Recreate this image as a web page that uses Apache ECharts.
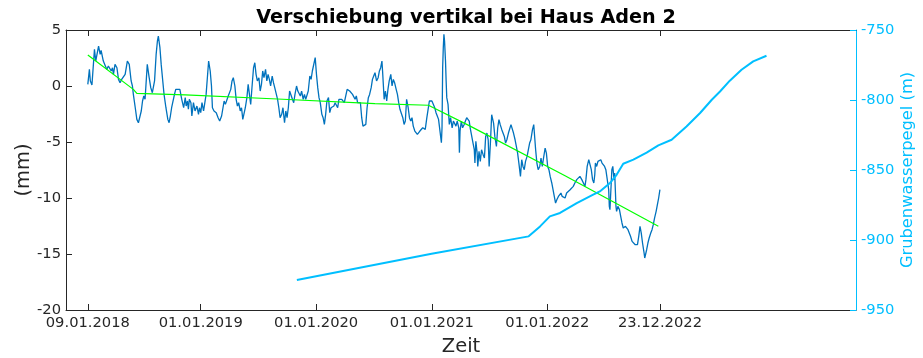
<!DOCTYPE html>
<html>
<head>
<meta charset="utf-8">
<script src="https://cdn.jsdelivr.net/npm/echarts@6/dist/echarts.min.js"></script>
<style>
  html, body { margin: 0; padding: 0; background: #ffffff; }
  #chart { width: 923px; height: 358px; }
</style>
</head>
<body>
<div id="chart"></div>
<script>
// Settlement measurement at Haus Aden 2 – day offsets counted from the first reading (09.01.2018)
const firstReading = Date.UTC(2018, 0, 9);
const DAY = 86400000;

// Vertical displacement (mm)
const dispDays = [
  0, 5, 8, 13, 21, 25, 34, 39, 42, 49, 55, 60, 65, 71, 74, 78, 81, 86, 92, 97, 102, 107, 113, 118, 125, 131, 137, 141, 144, 150, 155, 160, 164, 169, 173, 177, 181, 188, 194, 199, 204, 211, 216, 220, 223, 228, 232, 236, 241, 247, 253, 257, 261, 265, 270, 274, 278, 284, 291, 297, 303, 308,
  311, 315, 318, 321, 326, 329, 334, 339, 345, 350, 353, 357, 361, 366, 371, 374, 378, 382, 387, 391, 394, 399, 406, 412, 417, 423, 427, 431, 435, 439, 444, 448, 452, 456, 460, 465, 469, 473, 477, 482, 486, 490, 494, 498, 503, 507, 511, 515, 519, 524, 528, 532, 536, 541, 545, 549, 553, 557, 562, 566, 570, 574, 578, 583, 587, 591, 595, 600, 604, 608,
  613, 617, 622, 626, 630, 634, 638, 643, 647, 651, 655, 660, 664, 668, 672, 676, 681, 685, 689, 693, 697, 702, 706, 710, 714, 719, 723, 727, 731, 735, 740, 744, 748, 752, 756, 761, 765, 769, 773, 778, 782, 786, 790, 794, 799, 803, 807, 811, 815, 820, 824, 828, 832, 837, 841, 845, 849, 853, 858, 862, 866, 870, 874, 879, 883, 887, 891, 896, 900, 904, 908,
  913, 918, 922, 926, 930, 932, 937, 941, 945, 949, 953, 958, 962, 966, 970, 975, 979, 983, 987, 991, 996, 1000, 1004, 1008, 1013, 1017, 1021, 1025, 1029, 1034, 1038, 1042, 1046, 1050, 1055, 1059, 1063, 1067, 1072, 1076, 1080, 1084, 1088, 1093, 1097, 1101, 1105, 1109, 1114, 1118, 1120, 1122, 1124, 1126, 1128, 1131, 1133, 1135, 1139, 1143, 1147, 1152, 1156, 1160, 1164, 1168, 1173, 1175, 1177, 1181, 1185, 1190, 1194, 1198, 1202, 1206, 1209,
  1214, 1218, 1222, 1224, 1227, 1231, 1233, 1237, 1241, 1245, 1250, 1254, 1258, 1262, 1266, 1269, 1273, 1277, 1279, 1283, 1287, 1292, 1296, 1300, 1304, 1309, 1313, 1317, 1321, 1325, 1330, 1334, 1338, 1342, 1346, 1351, 1355, 1359, 1363, 1368, 1372, 1376, 1380, 1384, 1389, 1393, 1397, 1401, 1406, 1410, 1412, 1416, 1420, 1424, 1429, 1433, 1437, 1441, 1446, 1450, 1454, 1458, 1462, 1467, 1471, 1475, 1479, 1483, 1488, 1492, 1496, 1500, 1505, 1509,
  1514, 1519, 1525, 1530, 1535, 1540, 1546, 1551, 1556, 1562, 1567, 1572, 1575, 1579, 1584, 1588, 1592, 1596, 1600, 1603, 1605, 1609, 1613, 1617, 1622, 1626, 1630, 1634, 1638, 1643, 1647, 1649, 1651, 1653, 1655, 1657, 1660, 1662, 1664, 1666, 1668, 1670, 1672, 1676, 1681, 1685, 1689, 1693, 1700, 1704, 1708, 1712, 1716, 1721, 1725, 1731, 1738, 1742, 1746, 1750, 1754, 1759, 1761, 1763, 1767, 1771, 1775, 1780, 1784, 1788, 1792, 1797, 1801, 1805, 1809
];
const dispMm = [
  0.15, 1.48, 0.45, 0.09, 3.27, 2.23, 3.57, 2.82, 3.18, 2.23, 2.38, 1.48, 1.79, 1.93, 1.34, 1.63, 1.04, 1.93, 1.63, 0.59, 0.29, 0.59, 0.45, 1.04, 2.23, 1.93, 0.45, 0.0, -0.75, -1.94, -2.98, -3.28, -3.19, -2.23, -1.34, -0.89, -1.19, 1.93, 0.74, -0.15, -0.60, 0.45, 2.82, 4.0, 4.46, 3.42, 1.93, 0.74, -0.75, -1.94, -2.98, -3.28, -2.68, -1.94, -1.79, -0.75, -0.30, -0.15, -0.30, -1.19, -1.94, -1.04,
  -1.79, -1.34, -2.08, -1.19, -1.49, -2.68, -1.49, -2.23, -1.79, -2.53, -1.94, -2.38, -1.49, -2.23, -2.08, -0.75, 0.74, 2.23, 1.34, 0.0, -1.94, -2.23, -2.38, -2.83, -3.13, -2.68, -2.53, -1.34, -1.64, -1.49, -0.89, -1.04, -0.30, 0.45, 0.74, 0.0, -1.19, -1.79, -1.49, -2.23, -1.94, -2.98, -2.83, -1.94, -1.04, 0.15, 0.0, -1.64, -0.15, 1.63, 2.08, 1.04, 0.45, 0.74, -0.45, 0.15, 1.34, 0.74, 1.48, 0.45, 1.04, 0.59, 0.0, 0.89, 0.30, -0.15, 0.0, -1.19, -1.94, -2.83,
  -2.53, -1.94, -3.28, -2.23, -2.83, -1.94, -0.45, -0.30, -1.19, -1.49, -0.75, 0.0, -0.45, -0.30, -0.89, -0.45, -1.19, -0.75, -1.19, -1.19, -0.45, 0.89, 0.59, 1.34, 1.19, 2.53, 1.04, -0.15, -1.04, -1.49, -2.53, -2.83, -3.43, -2.53, -1.34, -1.04, -2.38, -1.94, -1.79, -1.79, -1.49, -1.64, -1.94, -1.19, -1.04, -1.19, -1.34, -1.49, -1.49, -0.30, -0.15, -0.45, -0.30, -0.75, -0.60, -1.19, -0.89, -1.49, -1.64, -1.49, -2.83, -3.58, -3.73, -3.43, -1.94, -1.04, -0.75, -0.15, 0.59, 0.89, 1.19,
  0.45, 0.74, 1.34, 1.63, 2.23, 1.34, -1.19, -0.45, -1.34, -0.30, 0.45, 1.04, 0.0, 0.59, 0.30, -0.30, -0.75, -1.49, -2.08, -2.23, -2.83, -3.43, -3.13, -1.19, -1.94, -2.83, -3.13, -2.83, -3.58, -4.02, -4.17, -4.32, -4.47, -4.02, -3.87, -3.73, -3.58, -3.87, -2.83, -2.08, -1.34, -1.19, -1.34, -1.49, -1.94, -2.38, -2.68, -2.98, -2.83, -5.06, -3.73, 1.63, 3.42, 4.61, 4.01, 2.23, 0.45, -1.04, -1.64, -3.43, -2.83, -3.73, -3.13, -2.98, -3.58, -3.13, -3.73, -5.95, -4.02, -3.13, -3.73, -3.43, -3.13, -2.83, -2.83, -3.13, -3.73,
  -3.90, -5.09, -5.69, -6.88, -4.94, -5.99, -7.18, -5.84, -6.73, -5.69, -6.13, -6.43, -4.50, -4.20, -4.80, -7.18, -5.09, -2.56, -2.41, -3.31, -4.50, -5.39, -3.75, -3.01, -3.45, -3.90, -4.05, -4.50, -5.09, -4.80, -4.20, -4.05, -3.45, -3.60, -4.20, -4.80, -5.39, -5.99, -6.88, -8.07, -6.58, -7.18, -7.47, -6.73, -6.28, -5.69, -5.09, -4.80, -3.90, -3.45, -4.20, -5.69, -6.88, -7.47, -7.18, -6.43, -7.18, -6.43, -5.54, -5.99, -7.18, -7.47, -8.07, -8.66, -9.26, -9.86, -10.45, -10.15, -9.86, -9.71, -9.56, -9.86, -10.0, -10.0,
  -9.55, -9.41, -9.26, -9.11, -8.96, -8.66, -8.36, -8.22, -8.07, -8.36, -8.66, -8.96, -8.36, -7.18, -6.58, -6.73, -7.47, -8.36, -8.66, -7.92, -6.88, -7.18, -6.73, -6.88, -6.58, -6.88, -6.73, -7.18, -7.47, -7.32, -9.26, -10.75, -11.04, -9.85, -8.66, -7.47, -7.18, -7.77, -8.36, -7.77, -9.26, -10.75, -11.19, -10.75, -11.04, -11.64, -12.23, -12.68, -12.53, -12.68, -12.83, -12.98, -13.42, -13.87, -14.02, -14.17, -14.17, -13.42, -12.53, -13.13, -14.02, -14.92, -15.36, -15.21, -14.62, -14.02, -13.57, -13.13, -12.83, -12.38, -11.79, -11.19, -10.60, -10.0, -9.26
];

// Fitted trend of the displacement (mm)
const trendDays = [0, 144, 155, 308, 600, 908, 1077, 1209, 1509, 1804];
const trendMm   = [2.77, -0.30, -0.66, -0.80, -1.16, -1.58, -1.72, -3.58, -8.01, -12.53];

// Mine water level (m)
const pegelDays = [661, 1087, 1394, 1430, 1461, 1493, 1546, 1598, 1619, 1651, 1672, 1693, 1725, 1767, 1804, 1846, 1893, 1936, 1973, 1999, 2030, 2067, 2104, 2146];
const pegelM    = [-928.5, -909.8, -897.4, -890.3, -883.1, -880.7, -873.6, -867.6, -865.3, -859.3, -853.4, -845.5, -842.6, -837.6, -832.4, -828.4, -818.9, -809.3, -799.8, -793.9, -786.2, -778.4, -772.4, -768.4];

// Date ticks on the time axis
const tickDates = [
  Date.UTC(2018, 0, 9), Date.UTC(2019, 0, 1), Date.UTC(2020, 0, 1),
  Date.UTC(2021, 0, 1), Date.UTC(2022, 0, 1), Date.UTC(2022, 11, 23)
];
const timeMin = Date.UTC(2017, 10, 1);
const timeMax = Date.UTC(2024, 8, 3);

const toPairs = (days, vals) => days.map((d, i) => [firstReading + d * DAY, vals[i]]);
const pad = n => (n < 10 ? '0' : '') + n;
const fmtDate = v => {
  const d = new Date(v);
  return pad(d.getUTCDate()) + '.' + pad(d.getUTCMonth() + 1) + '.' + d.getUTCFullYear();
};

const AXIS = '#262626';
const CYAN = '#00BFFF';
const FONT = 'DejaVu Sans';

const chart = echarts.init(document.getElementById('chart'), null, { renderer: 'canvas' });
chart.setOption({
  animation: false,
  backgroundColor: '#ffffff',
  textStyle: { fontFamily: FONT },
  title: {
    text: 'Verschiebung vertikal bei Haus Aden 2',
    left: 461, textAlign: 'center', top: 4,
    textStyle: { fontFamily: FONT, fontSize: 19.2, fontWeight: 'bold', color: '#000000' }
  },
  grid: { left: 66, right: 67, top: 30, bottom: 48, containLabel: false, outerBoundsMode: 'none' },
  xAxis: [
    {
      type: 'value', position: 'bottom', min: timeMin, max: timeMax,
      name: 'Zeit', nameLocation: 'middle', nameGap: 27, nameMoveOverlap: false,
      nameTextStyle: { fontFamily: FONT, fontSize: 19.5, color: AXIS },
      axisLine: { show: true, onZero: false, lineStyle: { color: AXIS, width: 1 } },
      axisTick: { show: true, inside: true, length: 6, customValues: tickDates, lineStyle: { color: AXIS } },
      axisLabel: { show: true, customValues: tickDates, formatter: fmtDate, margin: 6,
                   fontFamily: FONT, fontSize: 14.7, color: AXIS },
      splitLine: { show: false }
    },
    {
      type: 'value', position: 'top', min: timeMin, max: timeMax,
      axisLine: { show: true, onZero: false, lineStyle: { color: AXIS, width: 1 } },
      axisTick: { show: true, inside: true, length: 6, customValues: tickDates, lineStyle: { color: AXIS } },
      axisLabel: { show: false },
      splitLine: { show: false }
    }
  ],
  yAxis: [
    {
      type: 'value', position: 'left', min: -20, max: 5, interval: 5,
      name: '(mm)', nameLocation: 'middle', nameGap: 32, nameMoveOverlap: false,
      nameTextStyle: { fontFamily: FONT, fontSize: 19.5, color: AXIS },
      axisLine: { show: true, onZero: false, lineStyle: { color: AXIS, width: 1 } },
      axisTick: { show: true, inside: true, length: 6, lineStyle: { color: AXIS } },
      axisLabel: { margin: 5, fontFamily: FONT, fontSize: 14.7, color: AXIS },
      splitLine: { show: false }
    },
    {
      type: 'value', position: 'right', min: -950, max: -750, interval: 50,
      name: 'Grubenwasserpegel (m)', nameLocation: 'middle', nameGap: 44, nameMoveOverlap: false,
      nameTextStyle: { fontFamily: FONT, fontSize: 16.3, color: CYAN },
      axisLine: { show: true, onZero: false, lineStyle: { color: CYAN, width: 1 } },
      axisTick: { show: true, inside: true, length: 6, lineStyle: { color: CYAN } },
      axisLabel: { margin: 5, fontFamily: FONT, fontSize: 14.7, color: CYAN },
      splitLine: { show: false }
    }
  ],
  series: [
    {
      name: 'Verschiebung', type: 'line', xAxisIndex: 0, yAxisIndex: 0, z: 2,
      data: toPairs(dispDays, dispMm), showSymbol: false, symbol: 'none',
      lineStyle: { color: '#0072BD', width: 1.3 }
    },
    {
      name: 'Trend', type: 'line', xAxisIndex: 0, yAxisIndex: 0, z: 3,
      data: toPairs(trendDays, trendMm), showSymbol: false, symbol: 'none',
      lineStyle: { color: '#00FF00', width: 1.2 }
    },
    {
      name: 'Grubenwasserpegel', type: 'line', xAxisIndex: 0, yAxisIndex: 1, z: 4,
      data: toPairs(pegelDays, pegelM), showSymbol: false, symbol: 'none',
      lineStyle: { color: CYAN, width: 2 }
    }
  ]
});
</script>
</body>
</html>
